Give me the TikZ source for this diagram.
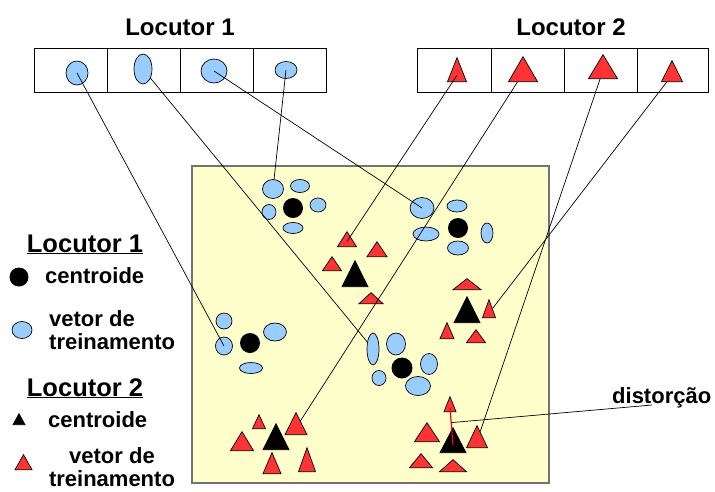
\documentclass[tikz,border=0pt]{standalone}
\usepackage{fontspec}
\setmainfont{Liberation Sans}
\usetikzlibrary{shapes.geometric,calc}
\definecolor{padyellow}{RGB}{255,255,204}
\definecolor{vecblue}{RGB}{153,204,255}
\definecolor{vecred}{RGB}{255,51,51}

\begin{document}
\begin{tikzpicture}[x=1pt, y=-1pt,
    sz/.style 2 args={minimum width=#1pt, minimum height=#2pt},
    vec/.style={ellipse, draw=black, fill=vecblue, line width=0.7pt, inner sep=0pt},
    cent/.style={circle, fill=black, inner sep=0pt},
    tri/.style={isosceles triangle, isosceles triangle stretches, shape border rotate=90,
        draw=black, line width=0.7pt, inner sep=0pt, anchor=lower side},
    rtri/.style={tri, fill=vecred},
    btri/.style={tri, fill=black},
    cellline/.style={line width=1pt},
    link/.style={line width=0.7pt},
    hdr/.style={font=\bfseries\fontsize{24}{28}\selectfont, inner sep=0pt},
    txt/.style={font=\bfseries\fontsize{22}{23}\selectfont, inner sep=0pt}]
    \useasboundingbox (0,0) rectangle (715,491);

    % Titles
    \node[hdr, anchor=base] (t1) at (180,35) {Locutor 1};
    \node[hdr, anchor=base] (t2) at (571,35) {Locutor 2};

    % Codebook of speaker 1
    \draw[cellline] (34,48) rectangle (326,92);
    \foreach \x in {107,180,253}
        \draw[cellline] (\x,48) -- (\x,92);
    \node[vec, sz={22}{24}] (k1a) at (77,73) {};
    \node[vec, sz={18}{30}] (k1b) at (143,69) {};
    \node[vec, sz={26}{24}] (k1c) at (214,71) {};
    \node[vec, sz={22}{17}] (k1d) at (286,70) {};

    % Codebook of speaker 2
    \draw[cellline] (417,48) rectangle (708,92);
    \foreach \x in {491,564,637}
        \draw[cellline] (\x,48) -- (\x,92);
    \node[rtri, sz={19}{24}] (k2a) at (457,82) {};
    \node[rtri, sz={29}{25}] (k2b) at (523,82) {};
    \node[rtri, sz={29}{24}] (k2c) at (603,79) {};
    \node[rtri, sz={21}{21}] (k2d) at (672,82) {};

    % Feature space
    \draw[fill=padyellow, draw=black!55, line width=1.5pt] (192,166) rectangle (549,483);

    % Speaker 1 clusters
    \node[vec, sz={21}{19}] (a1) at (273,189) {};
    \node[vec, sz={19}{13}] (a2) at (300,186) {};
    \node[vec, sz={14}{15}] (a3) at (269,212) {};
    \node[cent, minimum size=20pt] (ac) at (293,208) {};
    \node[vec, sz={16}{14}] (a4) at (318,205) {};
    \node[vec, sz={20}{11}] (a5) at (293,228) {};

    \node[vec, sz={24}{21}] (b1) at (422,208) {};
    \node[vec, sz={20}{12}] (b2) at (457,206) {};
    \node[vec, sz={26}{14}] (b3) at (426,234) {};
    \node[cent, minimum size=20pt] (bc) at (458,228) {};
    \node[vec, sz={12}{20}] (b4) at (487,233) {};
    \node[vec, sz={21}{14}] (b5) at (458,248) {};

    \node[vec, sz={16}{16}] (c1) at (224,321) {};
    \node[vec, sz={17}{18}] (c2) at (224,346) {};
    \node[cent, minimum size=20pt] (cc) at (250,343) {};
    \node[vec, sz={23}{18}] (c3) at (275,332) {};
    \node[vec, sz={23}{11}] (c4) at (251,368) {};

    \node[vec, sz={12}{32}] (d1) at (373,349) {};
    \node[vec, sz={19}{22}] (d2) at (396,344) {};
    \node[cent, minimum size=21pt] (dc) at (402,368) {};
    \node[vec, sz={17}{21}] (d3) at (429,364) {};
    \node[vec, sz={14}{15}] (d4) at (379,378) {};
    \node[vec, sz={25}{19}] (d5) at (418,386) {};

    % Speaker 2 clusters
    \node[rtri, sz={19}{15}] (ta1) at (347,247) {};
    \node[rtri, sz={20}{15}] (ta2) at (377,257) {};
    \node[rtri, sz={19}{14}] (ta3) at (332,271) {};
    \node[btri, sz={26}{26}] (tac) at (355,287) {};
    \node[rtri, sz={24}{11}] (ta4) at (371,304) {};

    \node[rtri, sz={28}{11}] (tb1) at (467,290) {};
    \node[btri, sz={26}{26}] (tbc) at (467,323) {};
    \node[rtri, sz={13}{18}] (tb2) at (489,318) {};
    \node[rtri, sz={14}{16}] (tb3) at (447,339) {};
    \node[rtri, sz={19}{13}] (tb4) at (476,343) {};

    \node[rtri, sz={13}{14}] (tc1) at (259,429) {};
    \node[rtri, sz={22}{22}] (tc2) at (296,435) {};
    \node[rtri, sz={23}{19}] (tc3) at (242,451) {};
    \node[btri, sz={26}{26}] (tcc) at (276,450) {};
    \node[rtri, sz={18}{21}] (tc4) at (272,474) {};
    \node[rtri, sz={17}{24}] (tc5) at (307,472) {};

    \node[rtri, sz={12}{15}] (td1) at (450,412) {};
    \node[rtri, sz={25}{19}] (td2) at (427,442) {};
    \node[btri, sz={26}{25}] (tdc) at (453,453) {};
    \node[rtri, sz={21}{22}] (td3) at (477,448) {};
    \node[rtri, sz={23}{14}] (td4) at (421,468) {};
    \node[rtri, sz={27}{12}] (td5) at (453,472) {};

    % Codewords to training vectors
    \draw[link] (k1a.center) -- (c2.center);
    \draw[link] (k1b) -- (d1);
    \draw[link] (k1c.center) -- (b1.center);
    \draw[link] (k1d.center) -- (a1);
    \draw[link] (k2a.center) -- (ta1.center);
    \draw[link] (k2b) -- (tc2);
    \draw[link] (k2c) -- (td3);
    \draw[link] (k2d) -- (tb2);

    % Distortion
    \coordinate (dbot) at ($(tdc.lower side)!0.3!(tdc.apex)$);
    \coordinate (dtop) at ($(td1.lower side)!0.27!(td1.apex)$);
    \coordinate (dpt) at ($(dbot)!0.6!(dtop)$);
    \coordinate (dend) at (652,405);
    \draw[red, line width=1.2pt] (dbot) -- (dtop);
    \draw[link] (dpt) -- (dend);
    \node[txt, anchor=base west] (dtxt) at (612,403) {distorção};

    % Legend
    \node[hdr, font=\bfseries\fontsize{25.5}{28}\selectfont, anchor=base] (g1h) at (85,252) {\underline{Locutor 1}};
    \node[cent, minimum size=19pt] (g1) at (19,277) {};
    \node[txt, anchor=base west] (g1t) at (45,283) {centroide};
    \node[vec, sz={20}{17}] (g2) at (22,330) {};
    \node[txt, align=left, anchor=west] (g2t) at (49,330) {vetor de\\treinamento};

    \node[hdr, font=\bfseries\fontsize{25.5}{28}\selectfont, anchor=base] (g2h) at (85,396) {\underline{Locutor 2}};
    \node[btri, sz={12}{11}] (g3) at (19,425) {};
    \node[txt, anchor=base west] (g3t) at (48,427) {centroide};
    \node[rtri, sz={17}{15}] (g4) at (23.5,470) {};
    \node[txt, align=center, anchor=center] (g4t) at (112,467) {vetor de\\treinamento};
\end{tikzpicture}
\end{document}
